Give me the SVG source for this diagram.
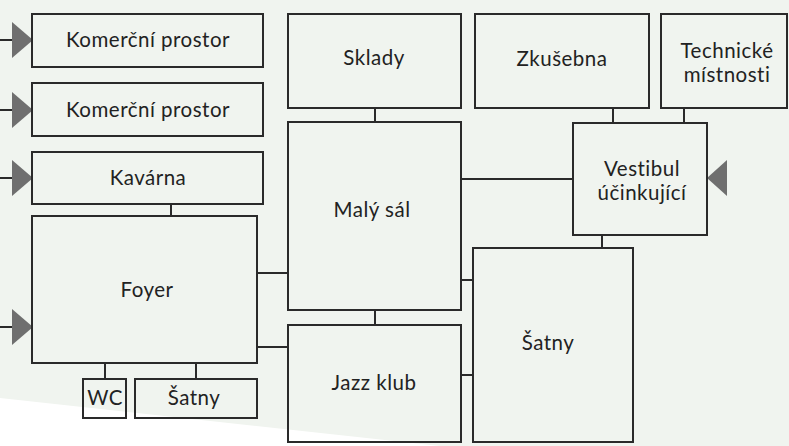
<svg xmlns="http://www.w3.org/2000/svg" width="789" height="446" viewBox="0 0 789 446">
  <defs>
    <style>
      .box { fill: none; stroke: #2a2a2a; stroke-width: 2; }
      .wire { fill: none; stroke: #2a2a2a; stroke-width: 2; }
      .entry { fill: #6f6f6f; stroke: none; }
      .lbl { font-family: Lato, "Open Sans", sans-serif; font-size: 20.5px; letter-spacing: 0.5px; fill: #222222; text-anchor: middle; dominant-baseline: central; }
    </style>
  </defs>

  <!-- backdrop -->
  <rect x="0" y="0" width="789" height="446" fill="#f0f4ef"/>
  <polygon points="0,398 440,446 0,446" fill="#ffffff"/>

  <!-- connectors -->
  <g id="connectors">
    <path class="wire" d="M0,40 H14 M0,110 H14 M0,178 H14 M0,327 H14"/>
    <path class="wire" d="M171,204 V216"/>
    <path class="wire" d="M105,363 V379 M196,363 V379"/>
    <path class="wire" d="M257,273 H288 M257,347 H288"/>
    <path class="wire" d="M375,108 V122 M375,310 V325"/>
    <path class="wire" d="M461,280 H473 M461,375 H473"/>
    <path class="wire" d="M461,179 H573"/>
    <path class="wire" d="M613,108 V123 M684,108 V123"/>
    <path class="wire" d="M602,235 V248"/>
    <polygon class="entry" points="12,22 33,40 12,58"/>
    <polygon class="entry" points="12,92 33,110 12,128"/>
    <polygon class="entry" points="12,160 33,178 12,196"/>
    <polygon class="entry" points="12,309 33,327 12,345"/>
    <polygon class="entry" points="727,160 707,178 727,196"/>
  </g>

  <g id="komercni-1">
    <rect class="box" x="32" y="14" width="231" height="53"/>
    <text class="lbl" x="148" y="39">Komerční prostor</text>
  </g>
  <g id="komercni-2">
    <rect class="box" x="32" y="83" width="231" height="53"/>
    <text class="lbl" x="148" y="109">Komerční prostor</text>
  </g>
  <g id="kavarna">
    <rect class="box" x="32" y="152" width="231" height="52"/>
    <text class="lbl" x="148" y="177">Kavárna</text>
  </g>
  <g id="foyer">
    <rect class="box" x="32" y="216" width="225" height="147"/>
    <text class="lbl" x="147" y="289">Foyer</text>
  </g>
  <g id="wc">
    <rect class="box" x="83" y="379" width="43" height="39"/>
    <text class="lbl" x="105" y="397">WC</text>
  </g>
  <g id="satny-mala">
    <rect class="box" x="135" y="379" width="122" height="39"/>
    <text class="lbl" x="194" y="397">Šatny</text>
  </g>
  <g id="sklady">
    <rect class="box" x="288" y="14" width="173" height="94"/>
    <text class="lbl" x="374" y="57">Sklady</text>
  </g>
  <g id="maly-sal">
    <rect class="box" x="288" y="122" width="173" height="188"/>
    <text class="lbl" x="372" y="209">Malý sál</text>
  </g>
  <g id="jazz-klub">
    <rect class="box" x="288" y="325" width="173" height="117"/>
    <text class="lbl" x="374" y="382">Jazz klub</text>
  </g>
  <g id="satny-velka">
    <rect class="box" x="473" y="248" width="160" height="194"/>
    <text class="lbl" x="548" y="342">Šatny</text>
  </g>
  <g id="zkusebna">
    <rect class="box" x="475" y="14" width="174" height="94"/>
    <text class="lbl" x="562" y="58">Zkušebna</text>
  </g>
  <g id="technicke">
    <rect class="box" x="661" y="14" width="126" height="94"/>
    <text class="lbl" x="727" y="49.5">Technické</text>
    <text class="lbl" x="727" y="74.2">místnosti</text>
  </g>
  <g id="vestibul">
    <rect class="box" x="573" y="123" width="134" height="112"/>
    <text class="lbl" x="642" y="167.5">Vestibul</text>
    <text class="lbl" x="642" y="192.2">účinkující</text>
  </g>
</svg>
